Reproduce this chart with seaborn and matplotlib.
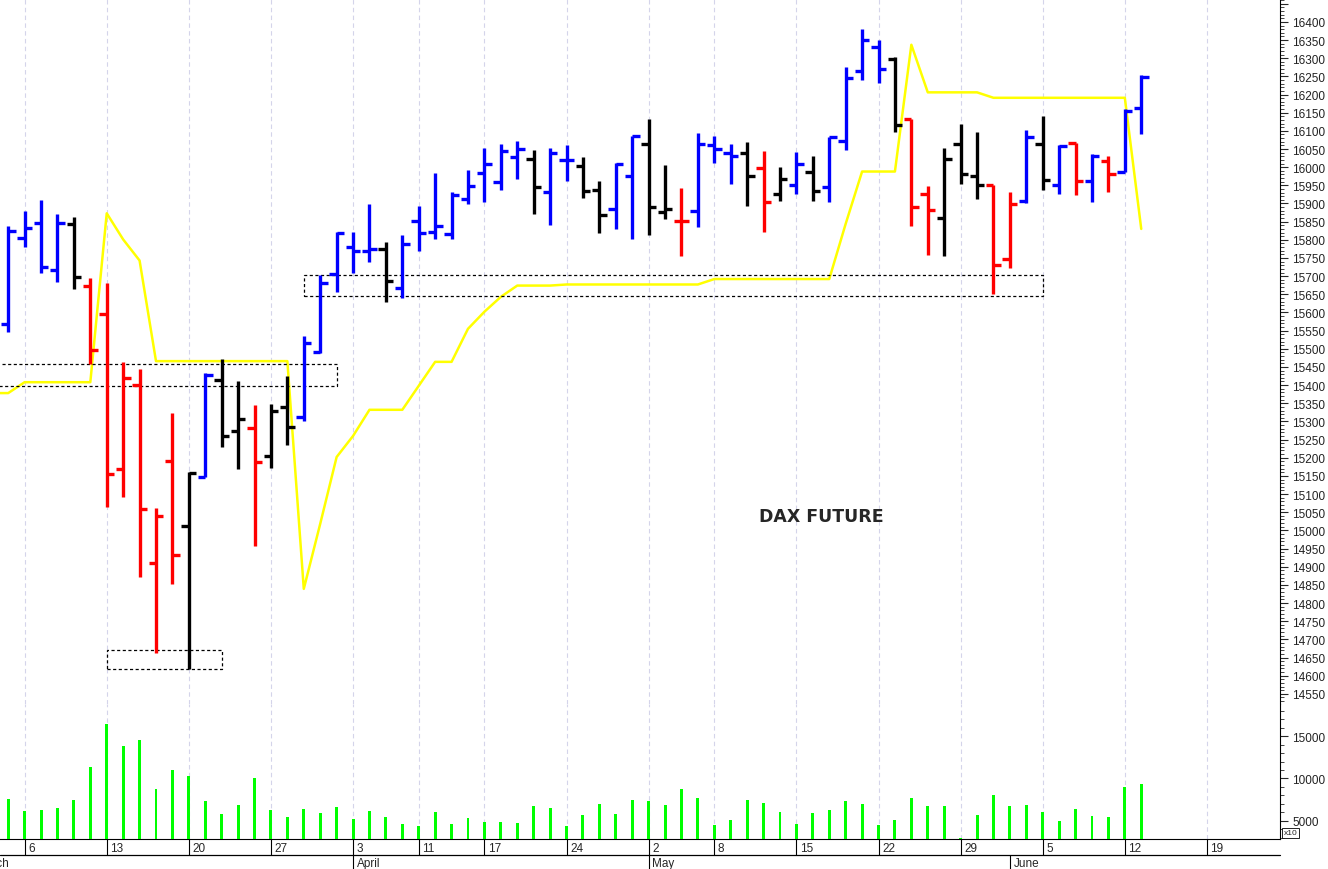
import numpy as np
import pandas as pd
import seaborn as sns
import matplotlib.pyplot as plt
import matplotlib.transforms as mtransforms
from matplotlib.patches import Rectangle
from matplotlib.ticker import MultipleLocator, FuncFormatter

# ─── data ───────────────────────────────────────────────────────────────
# trading days from 3 Mar 2023 (Good Friday, Easter Monday, 1 May closed)
holidays = ["2023-04-07", "2023-04-10", "2023-05-01"]
days = pd.bdate_range("2023-03-03", "2023-06-23")
days = days[~days.isin(pd.to_datetime(holidays))]

opens = [15567, 15805, 15846, 15718, 15844, 15673, 15596, 15168, 15399, 14910,
         15191, 15012, 15148, 15414, 15274, 15282, 15204, 15339, 15312, 15491,
         15706, 15780, 15768, 15775, 15667, 15853, 15821, 15816, 15911, 15983,
         15959, 16027, 16023, 15931, 16019, 16002, 15938, 15885, 15977, 16064,
         15876, 15852, 15879, 16061, 16038, 16038, 15997, 15926, 15952, 15986,
         15945, 16071, 16266, 16330, 16298, 16133, 15926, 15859, 16063, 15977,
         15952, 15746, 15908, 16064, 15951, 16067, 15961, 16018, 15988, 16162]
highs = [15837, 15879, 15910, 15871, 15864, 15694, 15681, 15463, 15443, 15061,
         15323, 15162, 15433, 15472, 15410, 15346, 15348, 15425, 15535, 15702,
         15821, 15821, 15898, 15793, 15814, 15893, 15983, 15931, 15991, 16052,
         16064, 16071, 16048, 16052, 16061, 16027, 15963, 16011, 16087, 16133,
         16006, 15942, 16093, 16085, 16064, 16069, 16044, 16000, 16041, 16032,
         16082, 16275, 16381, 16349, 16303, 16133, 15949, 16052, 16119, 16096,
         15952, 15931, 16101, 16140, 16060, 16067, 16037, 16030, 16160, 16254]
lows = [15546, 15780, 15708, 15685, 15665, 15457, 15064, 15091, 14873, 14663,
        14852, 14619, 15148, 15229, 15168, 14957, 15172, 15234, 15302, 15489,
        15656, 15709, 15740, 15630, 15639, 15770, 15803, 15803, 15899, 15904,
        15938, 15968, 15871, 15841, 15963, 15915, 15819, 15830, 15802, 15814,
        15858, 15755, 15835, 16012, 15954, 15893, 15821, 15908, 15925, 15908,
        15905, 16048, 16241, 16232, 16096, 15837, 15759, 15755, 15954, 15913,
        15651, 15722, 15902, 15938, 15926, 15924, 15904, 15931, 15986, 16092]
closes = [15824, 15832, 15726, 15846, 15697, 15496, 15156, 15419, 15058, 15040,
          14932, 15158, 15429, 15259, 15306, 15187, 15328, 15286, 15516, 15681,
          15819, 15768, 15775, 15686, 15788, 15819, 15837, 15924, 15949, 16010,
          16044, 16050, 15945, 16039, 16019, 15934, 15869, 16009, 16087, 15890,
          15885, 15852, 16064, 16050, 16030, 15977, 15904, 15968, 16009, 15934,
          16082, 16245, 16349, 16271, 16116, 15890, 15881, 16023, 15982, 15951,
          15731, 15899, 16082, 15966, 16058, 15961, 16032, 15982, 16156, 16248]
bar_colors = list("bbbbk" "rrrrrr" "kbkkrkk" "bbbbbk" "bbbbbbbbk" "bbkkbbkk"
                  "rbbbkrkbk" "bbbbkrrkkk" "rrbkbrbrbb")
volume = [7607, 6128, 6323, 6556, 7451, 11303, 16362, 13833, 14494, 8774,
          10992, 10331, 7335, 5817, 6829, 10019, 6323, 5428, 6440, 5973,
          6634, 5272, 6206, 5506, 4650, 4377, 6051, 4689, 5311, 4922,
          4844, 4728, 6790, 6556, 4416, 5739, 6984, 5856, 7490, 7335,
          6907, 8774, 7724, 4572, 5078, 7490, 7140, 6089, 4689, 5934,
          6323, 7373, 6984, 4494, 5156, 7763, 6712, 6712, 3054, 5739,
          8074, 6712, 6907, 6012, 5039, 6362, 5545, 5428, 9047, 9358]
# yellow stop line, 2 Mar .. 13 Jun
stop_line = [15378, 15378, 15408, 15408, 15408, 15408, 15408, 15873, 15801, 15743,
             15466, 15466, 15466, 15466, 15466, 15466, 15466, 15466, 15466, 14839,
             15018, 15202, 15260, 15332, 15332, 15332, 15398, 15464, 15464, 15555,
             15602, 15643, 15674, 15674, 15674, 15677, 15677, 15677, 15677, 15677,
             15677, 15677, 15677, 15677, 15692, 15692, 15692, 15692, 15692, 15692,
             15692, 15692, 15844, 15988, 15988, 15988, 16337, 16206, 16206, 16206,
             16206, 16191, 16191, 16191, 16191, 16191, 16191, 16191, 16191, 16191,
             15830]
# dashed boxes: (first bar, last bar, low, high)
zones = [(-2, 20, 15398, 15458), (18, 63, 15646, 15703), (6, 13, 14619, 14671)]

cmap = {"b": "#0000ff", "r": "#ff0000", "k": "#000000"}
idx = np.arange(len(opens))
cols = [cmap[c] for c in bar_colors]

# ─── figure ─────────────────────────────────────────────────────────────
sns.set_style("white")
plt.rcParams["font.family"] = ["Liberation Sans", "DejaVu Sans"]

W, H = 1328, 870
fig = plt.figure(figsize=(W / 100, H / 100), dpi=100)
ax = fig.add_axes([0, (H - 705) / H, 1280 / W, 705 / H])
axv = fig.add_axes([0, 30 / H, 1280 / W, 135 / H], sharex=ax)

# week grid
week_pos = [i for i in range(1, len(days)) if days[i].weekday() < days[i - 1].weekday()]
for a in (ax, axv):
    for p in week_pos:
        a.axvline(p, color="#d4d4ea", lw=0.8, ls=(0, (4, 3)), zorder=0)

# price bars
ax.vlines(idx, lows, highs, colors=cols, lw=2.4, zorder=3)
ax.hlines(opens, idx - 0.45, idx, colors=cols, lw=2.4, zorder=3)
ax.hlines(closes, idx, idx + 0.45, colors=cols, lw=2.4, zorder=3)

sns.lineplot(x=np.arange(-1, len(stop_line) - 1), y=stop_line, color="#ffff00",
             lw=1.8, ax=ax, zorder=2)

for x0, x1, lo, hi in zones:
    ax.add_patch(Rectangle((x0, lo), x1 - x0, hi - lo, fill=False, ec="black",
                           lw=0.9, ls=(0, (2.5, 2)), zorder=2.5))

ax.text(0.642, 0.267, "DAX FUTURE", transform=ax.transAxes, ha="center",
        va="center", fontsize=12.5, fontweight="bold", family="DejaVu Sans")

ax.set_xlim(-0.5, 77.45)
ax.set_ylim(14522, 16463)
ax.yaxis.tick_right()
ax.yaxis.set_major_locator(MultipleLocator(50))
ax.yaxis.set_minor_locator(MultipleLocator(10))
ax.yaxis.set_major_formatter(FuncFormatter(lambda v, _: "" if v > 16400 else f"{int(v)}"))
for s in ("top", "left", "bottom"):
    ax.spines[s].set_visible(False)
ax.spines["right"].set_color("black")
ax.tick_params(axis="y", which="major", length=6, width=0.8, labelsize=8.5,
               labelcolor="#222222", right=True, pad=3)
ax.tick_params(axis="y", which="minor", length=3, width=0.6, right=True)
ax.tick_params(axis="x", bottom=False, labelbottom=False)
ax.set_xlabel("")
ax.set_ylabel("")

# volume
sns.barplot(x=idx, y=volume, native_scale=True, width=0.18, color="#00ff00",
            saturation=1, errorbar=None, linewidth=0, ax=axv, zorder=3)
axv.set_xlim(-0.5, 77.45)
axv.set_ylim(2882, 18765)
axv.yaxis.tick_right()
axv.yaxis.set_major_locator(MultipleLocator(5000))
axv.yaxis.set_minor_locator(MultipleLocator(1000))
axv.yaxis.set_major_formatter(FuncFormatter(lambda v, _: f"{int(v)}" if v > 4000 else ""))
for s in ("top", "left"):
    axv.spines[s].set_visible(False)
axv.spines["right"].set_color("black")
axv.spines["bottom"].set_color("black")
axv.tick_params(axis="y", which="major", length=6, width=0.8, labelsize=8.5,
                labelcolor="#222222", right=True, pad=3)
axv.tick_params(axis="y", which="minor", length=3, width=0.6, right=True)
axv.tick_params(axis="x", bottom=False, labelbottom=False)
axv.set_xlabel("")
axv.set_ylabel("")

fig.text(1284 / W, 1 - 834 / H, "x10", fontsize=6, va="center", ha="left",
         bbox=dict(boxstyle="square,pad=0.2", fc="white", ec="black", lw=0.6))

# date axis
blend = mtransforms.blended_transform_factory(axv.transData, fig.transFigure)
y840, y856, y870 = 1 - 840 / H, 1 - 856 / H, 0.0
axv.plot([-0.5, 77.45], [y856, y856], transform=blend, color="black", lw=0.9,
         clip_on=False)
for p in week_pos:
    axv.plot([p, p], [y840, y856], transform=blend, color="black", lw=0.8,
             clip_on=False)
    axv.text(p + 0.22, (y840 + y856) / 2 - 0.001, str(days[p].day), transform=blend,
             fontsize=8.5, va="center", ha="left", clip_on=False)
month_pos = [i for i in range(1, len(days)) if days[i].month != days[i - 1].month]
for p in month_pos:
    axv.plot([p, p], [y856, y870], transform=blend, color="black", lw=0.8,
             clip_on=False)
    axv.text(p + 0.22, y856 / 2 - 0.001, days[p].strftime("%B"), transform=blend,
             fontsize=8.5, va="center", ha="left", clip_on=False)
axv.text(-1.95, y856 / 2 - 0.001, "March", transform=blend, fontsize=8.5,
         va="center", ha="left", clip_on=False)

fig.savefig("out.png", dpi=100)
